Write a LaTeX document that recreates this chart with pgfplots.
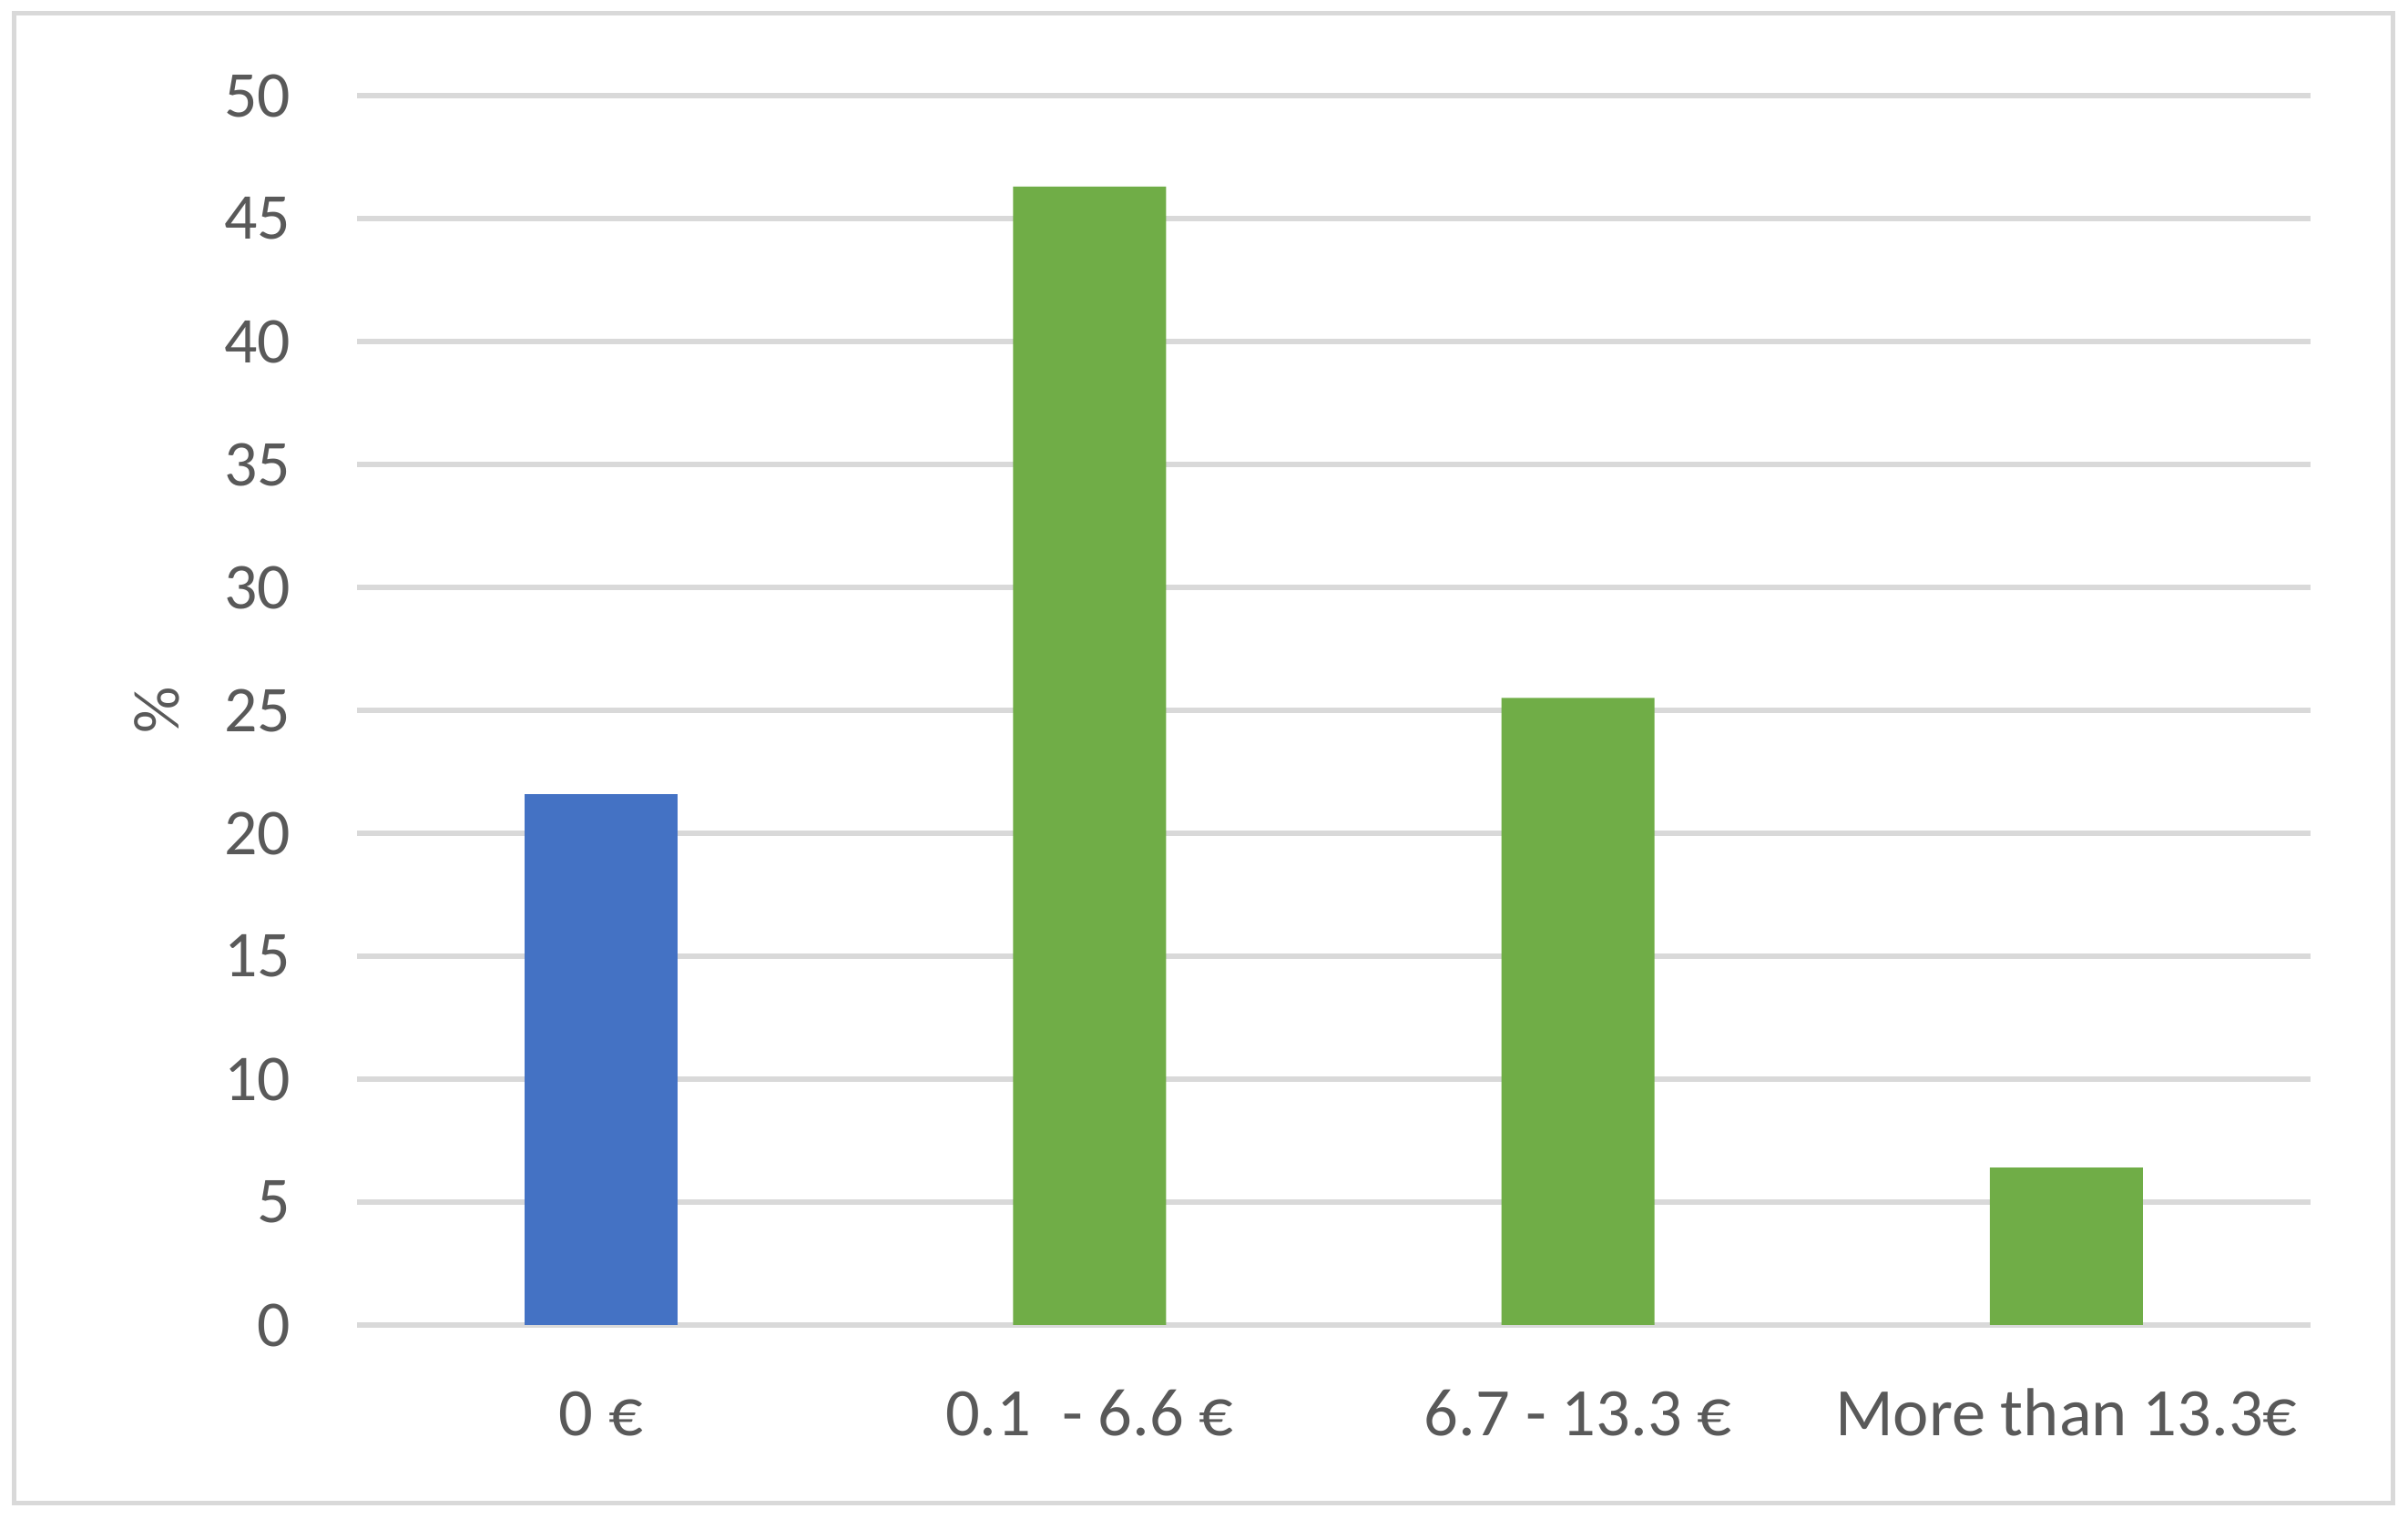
\documentclass[border=0pt]{standalone}
\usepackage{fontspec}
\setmainfont{Carlito}
\usepackage{pgfplots}
\pgfplotsset{compat=1.18}

\definecolor{txtgray}{HTML}{595959}
\definecolor{gridgray}{HTML}{D9D9D9}
\definecolor{barblue}{HTML}{4472C4}
\definecolor{bargreen}{HTML}{70AD47}

\begin{document}
\begin{tikzpicture}
\useasboundingbox (0,0) rectangle (661bp,417bp);
\draw[gridgray, line width=1.25bp] (3.75bp,4.4bp) rectangle (656.9bp,413.4bp);
\begin{axis}[
    at={(98bp,53.25bp)}, anchor=south west,
    width=536.25bp, height=337.5bp, scale only axis,
    xmin=-0.5, xmax=3.5,
    ymin=0, ymax=50,
    ytick={0,5,...,50},
    xtick={0,1,2,3},
    xticklabels={0 €, 0.1\ \ - 6.6 €, 6.7 - 13.3 €, More than 13.3€},
    axis line style={draw=none},
    major tick length=0pt,
    ymajorgrids,
    grid style={gridgray, line width=1.5bp},
    /pgf/number format/assume math mode=true,
    tick label style={font=\fontsize{18}{21}\selectfont, text=txtgray},
    yticklabel style={anchor=east, inner sep=0pt, xshift=-18bp},
    xticklabel style={anchor=base, inner sep=0pt, yshift=-30.5bp,
        font=\fontsize{18.7}{22}\selectfont},
    ylabel={\%},
    every axis y label/.style={at={(axis description cs:-0.1026,0.5)}, rotate=90, anchor=center,
        font=\fontsize{18}{21}\selectfont, text=txtgray},
    ybar, bar width=42bp,
]
\addplot[draw=none, fill=barblue, bar shift=0pt] coordinates {(0,21.6)};
\addplot[draw=none, fill=bargreen, bar shift=0pt] coordinates {(1,46.3) (2,25.5) (3,6.4)};
\end{axis}
\end{tikzpicture}
\end{document}
